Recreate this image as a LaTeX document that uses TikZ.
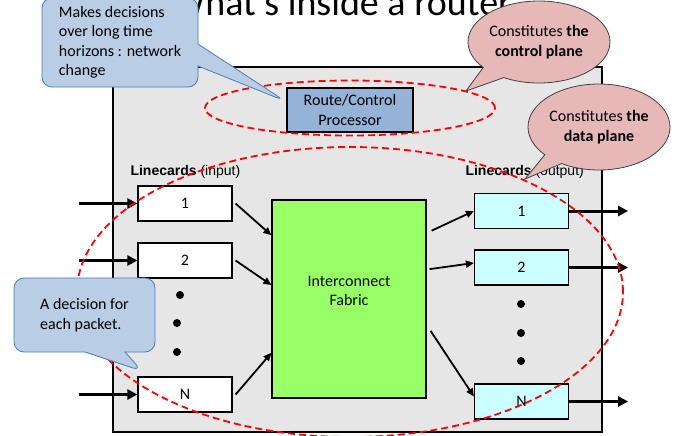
\documentclass[tikz,border=0pt]{standalone}
\usepackage{fontspec}
\setmainfont{Carlito}
\newfontfamily\arialfont{Liberation Sans}
\usetikzlibrary{arrows.meta, shapes.callouts, shapes.geometric, calc}

\definecolor{chassisgray}{HTML}{E6E6E6}
\definecolor{procblue}{HTML}{95B3D7}
\definecolor{fabgreen}{HTML}{99FF66}
\definecolor{outcyan}{HTML}{CCFFFF}
\definecolor{notefill}{HTML}{B9CDE5}
\definecolor{noteline}{HTML}{4A7EBB}
\definecolor{planefill}{HTML}{E6B9B8}

\begin{document}
\begin{tikzpicture}[x=1pt, y=-1pt,
    every node/.style={font=\fontsize{16}{19.5}\selectfont},
    card/.style={draw, line width=1.2pt, minimum width=94pt, minimum height=35pt, inner sep=0pt},
    incard/.style={card, fill=white},
    outcard/.style={card, fill=outcyan},
    feed/.style={line width=3pt, -{Triangle[length=10pt,width=10pt]}},
    link/.style={line width=1.8pt, -{Triangle[length=8pt,width=7pt]}},
    plane/.style={draw=red, line width=1.8pt, dash pattern=on 7pt off 4pt, ellipse, inner sep=0pt},
    note/.style={rectangle callout, rounded corners=10pt, draw=noteline, fill=notefill, line width=0.8pt, align=left, inner sep=0pt},
    bubble/.style={ellipse callout, draw=black!75, fill=planefill, line width=0.8pt, align=center, inner sep=0pt}]
    \useasboundingbox (0,0) rectangle (677,436);
    \node[anchor=base west, font=\fontsize{38}{40}\selectfont] (title) at (168,16) {What's inside a router};
    \node[draw, line width=1.2pt, fill=chassisgray, minimum width=489pt, minimum height=365pt] (chassis) at (357.5,249.5) {};
    \node[draw, line width=1.2pt, fill=procblue, minimum width=126pt, minimum height=44pt, align=center, inner sep=0pt] (proc) at (350,110) {Route/Control\\Processor};
    \node[draw, line width=1.2pt, fill=fabgreen, minimum width=154pt, minimum height=198pt,
        label={[align=center, yshift=8pt]center:Interconnect\\Fabric}] (fab) at (349,299) {};
    \node[anchor=base west, font=\arialfont\fontsize{14}{16}\selectfont] (inlabel) at (127,175) {\textbf{Linecards} (input)};
    \node[anchor=base west, font=\arialfont\fontsize{14}{16}\selectfont] (outlabel) at (462,175) {\textbf{Linecards} (output)};
    \node[incard] (in1) at (185,203.5) {1};
    \node[incard] (in2) at (185,260.5) {2};
    \node[incard] (inN) at (185,394.5) {N};
    \node[outcard] (out1) at (521.5,211) {1};
    \node[outcard] (out2) at (521.5,267.5) {2};
    \node[outcard] (outN) at (521.5,401.5) {N};
    \foreach \x/\y in {180/295, 177/323, 177/352, 521/304, 521/333, 521/361}
        \fill (\x,\y) circle (4pt);
    \foreach \c in {in1, in2, inN}
        \draw[feed] ([xshift=-58pt]\c.west) -- (\c.west);
    \foreach \c in {out1, out2, outN}
        \draw[feed] (\c.east) -- ([xshift=59pt]\c.east);
    \draw[link] ([xshift=3pt]in1.east) -- ($(fab.north west)!0.18!(fab.south west)$);
    \draw[link] ([xshift=3pt]in2.east) -- ($(fab.north west)!0.43!(fab.south west)$);
    \draw[link] ([xshift=3pt]inN.east) -- ($(fab.north west)!0.77!(fab.south west)$);
    \draw[link] ($(fab.north east)!0.157!(fab.south east)+(5,0)$) -- (out1.west);
    \draw[link] ($(fab.north east)!0.35!(fab.south east)+(3,0)$) -- ([yshift=4.5pt]out2.west);
    \draw[link] ($(fab.north east)!0.66!(fab.south east)+(4,0)$) -- ([yshift=5pt]outN.west);
    \node[plane, minimum width=290pt, minimum height=55pt] (ctrl) at (350,108) {};
    \node[plane, minimum width=546pt, minimum height=290pt] (data) at (350,292) {};
    \node[note, minimum width=156pt, minimum height=89pt, callout absolute pointer={(285,101)}, callout pointer width=22pt] (longnote) at (120,42.5) {Makes decisions\\over long time\\horizons : network\\change};
    \node[note, minimum width=141pt, minimum height=74pt, callout absolute pointer={(142,371)}, callout pointer width=40pt] (pktnote) at (84.5,315) {A decision for\\each packet.};
    \node[bubble, minimum width=142pt, minimum height=82pt, callout absolute pointer={(466,91)}, callout pointer arc=22] (ctrlnote) at (539,42) {Constitutes \textbf{the}\\\textbf{control plane}};
    \node[bubble, minimum width=142pt, minimum height=86pt, callout absolute pointer={(525,179)}, callout pointer arc=18] (datanote) at (599,127) {Constitutes \textbf{the}\\\textbf{data plane}};
\end{tikzpicture}
\end{document}
